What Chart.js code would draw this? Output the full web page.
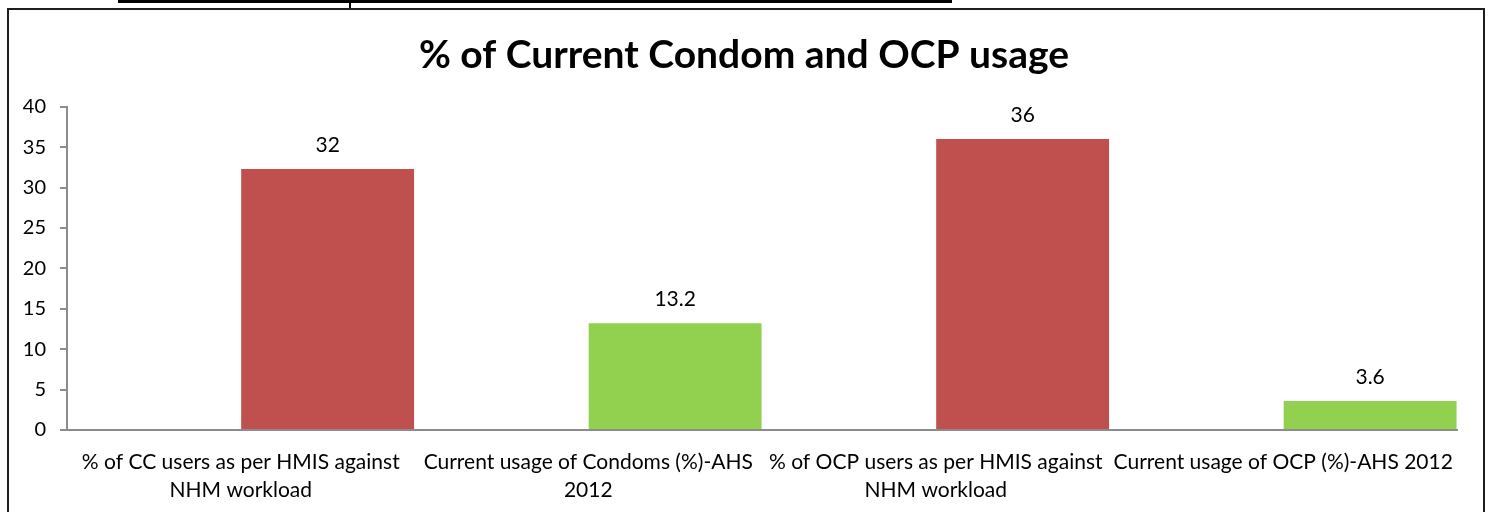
<!DOCTYPE html>
<html>
<head>
<meta charset="utf-8">
<script src="https://cdn.jsdelivr.net/npm/chart.js@4.4.1/dist/chart.umd.min.js"></script>
<style>
  html, body { margin: 0; padding: 0; background: #fff; }
  #wrap { position: relative; width: 1488px; height: 512px; overflow: hidden; }
  #frame { position: absolute; left: 7px; top: 8px; width: 1474px; height: 520px; border: 2px solid #1e1e1e; }
  #tbl-line { position: absolute; left: 118px; top: 0; width: 834px; height: 3px; background: #000; }
  #tbl-tick { position: absolute; left: 349px; top: 0; width: 2px; height: 8px; background: #000; }
  canvas { position: absolute; left: 0; top: 0; }
</style>
</head>
<body>
<div id="wrap">
  <div id="tbl-line"></div>
  <div id="tbl-tick"></div>
  <div id="frame"></div>
  <canvas id="c" width="1488" height="512"></canvas>
</div>
<script>
const categories = [
  ['% of CC users as per HMIS against', 'NHM workload'],
  ['Current usage of Condoms (%)-AHS', '2012'],
  ['% of OCP users as per HMIS against', 'NHM workload'],
  ['Current usage of OCP (%)-AHS 2012'],
];
const usageValues = [32.3, 13.2, 36, 3.6];
const valueLabels = ['32', '13.2', '36', '3.6'];
const barColors = ['#C0504D', '#92D050', '#C0504D', '#92D050'];
const yTicks = [0, 5, 10, 15, 20, 25, 30, 35, 40];

const FONT = 'Lato, "Open Sans", sans-serif';

// draws the number above each bar
const valueLabelPlugin = {
  id: 'valueLabels',
  afterDatasetsDraw(chart) {
    const ctx = chart.ctx;
    const meta = chart.getDatasetMeta(1);
    ctx.save();
    ctx.font = '21px ' + FONT;
    ctx.fillStyle = '#000';
    ctx.textAlign = 'center';
    ctx.textBaseline = 'middle';
    meta.data.forEach((bar, i) => {
      ctx.fillText(valueLabels[i], bar.x, bar.y - 24);
    });
    ctx.restore();
  }
};

new Chart(document.getElementById('c'), {
  type: 'bar',
  data: {
    labels: categories,
    datasets: [
      { label: 'blank', data: categories.map(() => null), backgroundColor: '#fff' },
      { label: 'usage', data: usageValues, backgroundColor: barColors, borderWidth: 0 },
    ],
  },
  options: {
    responsive: false,
    animation: false,
    devicePixelRatio: 1,
    categoryPercentage: 1,
    barPercentage: 0.995,
    layout: { padding: 0 },
    plugins: {
      legend: { display: false },
      tooltip: { enabled: false },
      title: {
        display: true,
        text: '% of Current Condom and OCP usage',
        color: '#000',
        font: { family: FONT, size: 39, weight: 'bold' },
        padding: { top: 32, bottom: 28 },
      },
    },
    scales: {
      x: {
        grid: { display: false, drawTicks: false },
        border: { display: true, color: '#8c8c8c', width: 2 },
        ticks: {
          color: '#000',
          font: { family: FONT, size: 21, lineHeight: 1.3 },
          padding: 19,
          maxRotation: 0,
          autoSkip: false,
        },
        afterFit(scale) { scale.height = 82; },
      },
      y: {
        min: 0,
        max: 40,
        afterBuildTicks(scale) { scale.ticks = yTicks.map(v => ({ value: v })); },
        grid: { drawOnChartArea: false, drawTicks: true, tickLength: 7, color: '#8c8c8c', lineWidth: 2 },
        border: { display: true, color: '#8c8c8c', width: 2 },
        ticks: {
          color: '#000',
          font: { family: FONT, size: 20 },
          padding: 14,
        },
        afterFit(scale) { scale.width = 67; },
      },
      // empty right margin so the title stays centred on the whole frame
      yRight: {
        position: 'right',
        min: 0,
        max: 40,
        grid: { display: false },
        border: { display: false },
        ticks: { display: false },
        afterFit(scale) { scale.width = 31; },
      },
    },
  },
  plugins: [valueLabelPlugin],
});
</script>
</body>
</html>
